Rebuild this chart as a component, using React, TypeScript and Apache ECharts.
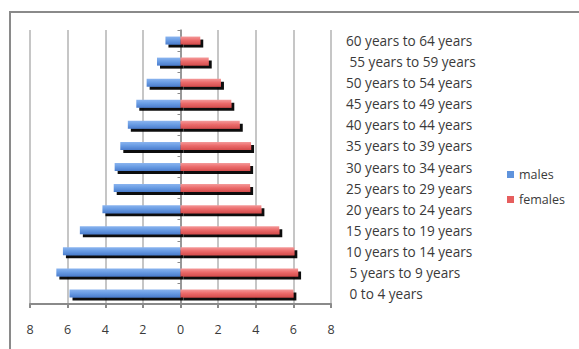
import React, { useEffect, useRef } from "react";
import * as echarts from "echarts";

// Age groups, listed from the youngest (bottom row) to the oldest (top row)
const ageGroups = [
  " 0 to 4 years",
  " 5 years to 9 years",
  "10 years to 14 years",
  "15 years to 19 years",
  "20 years to 24 years",
  "25 years to 29 years",
  "30 years to 34 years",
  "35 years to 39 years",
  "40 years to 44 years",
  "45 years to 49 years",
  "50 years to 54 years",
  " 55 years to 59 years",
  "60 years to 64 years",
];

// Share of population (%) per age group
const males = [5.9, 6.6, 6.25, 5.35, 4.15, 3.55, 3.5, 3.2, 2.8, 2.35, 1.8, 1.25, 0.8];
const females = [6.0, 6.25, 6.05, 5.25, 4.3, 3.7, 3.7, 3.75, 3.15, 2.7, 2.15, 1.5, 1.05];

const axisTicks = [-8, -6, -4, -2, 0, 2, 4, 6, 8];

const FONT = "'Open Sans', Lato, sans-serif";
const TEXT = "#3a3a3a";
const FS = 12.5;

export default function App() {
  const ref = useRef<HTMLDivElement>(null);

  useEffect(() => {
    if (!ref.current) return;
    const chart = echarts.init(ref.current, undefined, { renderer: "svg" });

    const blue = new echarts.graphic.LinearGradient(0, 0, 0, 1, [
      { offset: 0, color: "#8ab4ef" },
      { offset: 0.45, color: "#6a9de4" },
      { offset: 1, color: "#4a7ccc" },
    ]);
    const red = new echarts.graphic.LinearGradient(0, 0, 0, 1, [
      { offset: 0, color: "#f49a9a" },
      { offset: 0.45, color: "#ec6c6c" },
      { offset: 1, color: "#d44c4c" },
    ]);

    chart.setOption({
      animation: false,
      backgroundColor: "#ffffff",
      textStyle: { fontFamily: FONT },
      graphic: [
        {
          type: "polyline",
          shape: { points: [[10, 349], [10, 12], [579, 12]] },
          style: { stroke: "#8a8a8a", lineWidth: 2, fill: null },
          silent: true,
        },
      ],
      legend: {
        orient: "vertical",
        left: 502,
        top: 163,
        itemWidth: 7,
        itemHeight: 7,
        itemGap: 12,
        icon: "rect",
        textStyle: { fontFamily: FONT, fontSize: FS, color: TEXT },
        data: [
          { name: "males", itemStyle: { color: "#5f93dc" } },
          { name: "females", itemStyle: { color: "#e65e5e" } },
        ],
      },
      grid: { left: 30, right: 248, top: 30, bottom: 45, containLabel: false },
      xAxis: {
        type: "value",
        min: axisTicks[0],
        max: axisTicks[axisTicks.length - 1],
        interval: 2,
        axisLine: { show: true, lineStyle: { color: "#8a8a8a", width: 2 } },
        axisTick: { show: true, length: 4, lineStyle: { color: "#8a8a8a", width: 2 } },
        axisLabel: {
          fontFamily: FONT,
          fontSize: FS,
          color: TEXT,
          margin: 19,
          formatter: (v: number) => String(Math.abs(v)),
        },
        splitLine: { show: true, lineStyle: { color: "#c6c6c6", width: 2 } },
      },
      yAxis: [
        {
          type: "category",
          data: ageGroups,
          axisLine: { show: true, onZero: true, lineStyle: { color: "#8a8a8a", width: 1.5 } },
          axisTick: { show: true, length: 3, lineStyle: { color: "#8a8a8a" } },
          axisLabel: { show: false },
          splitLine: { show: false },
        },
        {
          type: "category",
          data: ageGroups,
          position: "right",
          axisLine: { show: false },
          axisTick: { show: false },
          axisLabel: {
            fontFamily: FONT,
            fontSize: 13.6,
            color: TEXT,
            margin: 15,
            align: "left",
          },
          splitLine: { show: false },
        },
      ],
      series: [
        {
          name: "males",
          type: "bar",
          stack: "pop",
          barWidth: 8,
          data: males.map((v) => -v),
          itemStyle: {
            color: blue,
            shadowColor: "rgba(0,0,0,0.95)",
            shadowBlur: 1,
            shadowOffsetX: 3,
            shadowOffsetY: 3,
          },
        },
        {
          name: "females",
          type: "bar",
          stack: "pop",
          barWidth: 8,
          data: females,
          itemStyle: {
            color: red,
            shadowColor: "rgba(0,0,0,0.95)",
            shadowBlur: 1,
            shadowOffsetX: 3,
            shadowOffsetY: 3,
          },
        },
      ],
    });

    return () => chart.dispose();
  }, []);

  return (
    <div
      ref={ref}
      style={{ position: "fixed", left: 0, top: 0, width: 579, height: 349 }}
    />
  );
}
